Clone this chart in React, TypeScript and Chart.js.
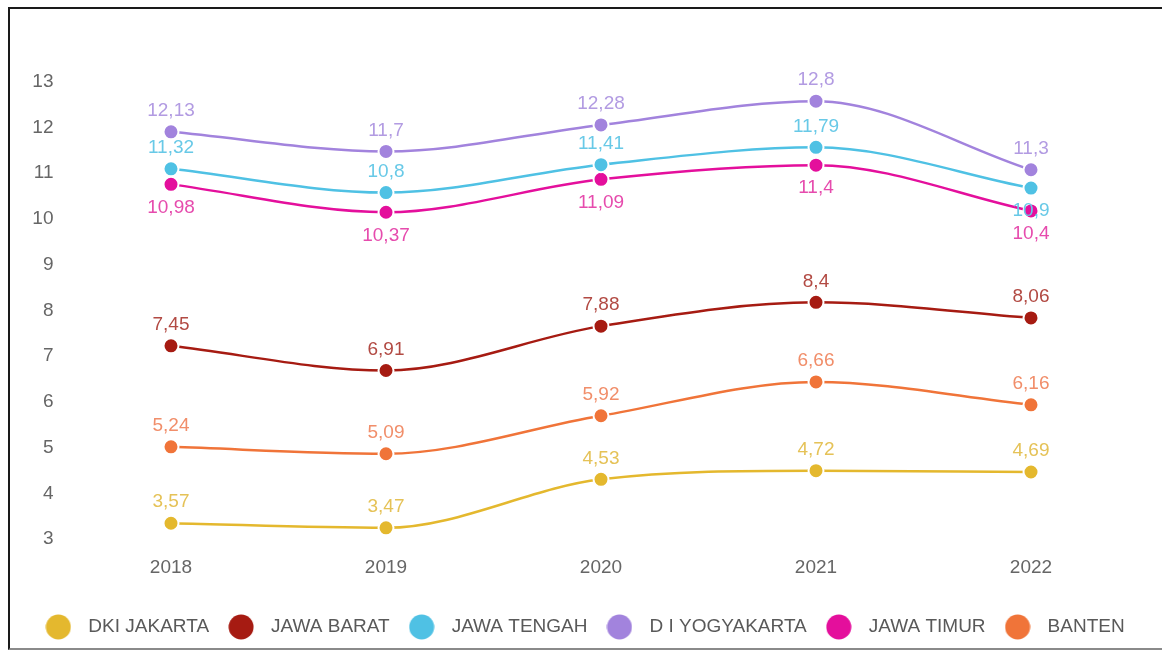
import React, { useEffect, useRef } from 'react';
import { Chart, registerables } from 'chart.js';

Chart.register(...registerables);

const years = ['2018', '2019', '2020', '2021', '2022'];
const dkiJakarta = [3.57, 3.47, 4.53, 4.72, 4.69];
const jawaBarat = [7.45, 6.91, 7.88, 8.4, 8.06];
const jawaTengah = [11.32, 10.8, 11.41, 11.79, 10.9];
const diYogyakarta = [12.13, 11.7, 12.28, 12.8, 11.3];
const jawaTimur = [10.98, 10.37, 11.09, 11.4, 10.4];
const banten = [5.24, 5.09, 5.92, 6.66, 6.16];
const yTicks = [3, 4, 5, 6, 7, 8, 9, 10, 11, 12, 13];

const seriesNames = ['DKI JAKARTA', 'JAWA BARAT', 'JAWA TENGAH', 'D I YOGYAKARTA', 'JAWA TIMUR', 'BANTEN'];
const seriesValues = [dkiJakarta, jawaBarat, jawaTengah, diYogyakarta, jawaTimur, banten];

const seriesStyles = [
  { color: '#E4B82E', labelColor: '#E5C257', side: ['a', 'a', 'a', 'a', 'a'] },
  { color: '#A61B12', labelColor: '#B24A43', side: ['a', 'a', 'a', 'a', 'a'] },
  { color: '#4FC1E4', labelColor: '#68C9E7', side: ['a', 'a', 'a', 'a', 'b'] },
  { color: '#A283DD', labelColor: '#B29BE2', side: ['a', 'a', 'a', 'a', 'a'] },
  { color: '#E40F9C', labelColor: '#E64BAD', side: ['b', 'b', 'b', 'b', 'b'] },
  { color: '#F07439', labelColor: '#F18E6A', side: ['a', 'a', 'a', 'a', 'a'] },
];

const FONT = "'Liberation Sans', Arial, sans-serif";

const valueLabels = {
  id: 'valueLabels',
  afterDatasetsDraw(chart: any) {
    const ctx = chart.ctx;
    ctx.save();
    ctx.font = `19px ${FONT}`;
    ctx.textAlign = 'center';
    ctx.textBaseline = 'middle';
    chart.data.datasets.forEach((ds: any, i: number) => {
      const meta = chart.getDatasetMeta(i);
      const st = seriesStyles[i];
      meta.data.forEach((pt: any, j: number) => {
        const v = ds.data[j];
        const below = st.side[j] === 'b';
        ctx.fillStyle = st.labelColor;
        ctx.fillText(String(v).replace('.', ','), pt.x, pt.y + (below ? 23 : -21));
      });
    });
    ctx.restore();
  },
};

function makeDot(color: string) {
  const c = document.createElement('canvas');
  c.width = 26;
  c.height = 26;
  const g = c.getContext('2d')!;
  g.fillStyle = color;
  g.beginPath();
  g.arc(13, 13, 12.5, 0, Math.PI * 2);
  g.fill();
  return c;
}

export default function App() {
  const ref = useRef<HTMLCanvasElement>(null);

  useEffect(() => {
    if (!ref.current) return;
    Chart.defaults.font.family = FONT;
    const dots = seriesStyles.map((s) => makeDot(s.color));
    const chart = new Chart(ref.current, {
      type: 'line',
      data: {
        labels: years,
        datasets: seriesNames.map((name, i) => ({
          label: name,
          data: seriesValues[i],
          borderColor: seriesStyles[i].color,
          backgroundColor: seriesStyles[i].color,
          pointBackgroundColor: seriesStyles[i].color,
          pointBorderColor: '#ffffff',
          pointBorderWidth: 2,
          pointRadius: 7.5,
          borderWidth: 2.5,
          cubicInterpolationMode: 'monotone' as const,
          tension: 0.4,
          fill: false,
        })),
      },
      options: {
        responsive: false,
        animation: false,
        events: [],
        layout: { padding: { top: 92, left: 24, right: 23.5, bottom: 4.5 } },
        scales: {
          x: {
            offset: true,
            grid: { display: false, drawTicks: false },
            border: { display: false },
            ticks: { color: '#666666', font: { size: 19 }, padding: 7 },
            afterFit: (scale: any) => {
              scale.height = 56.7;
            },
          },
          y: {
            min: 3,
            max: 13,
            grid: { display: false, drawTicks: false },
            border: { display: false },
            afterBuildTicks: (scale: any) => {
              scale.ticks = yTicks.map((v) => ({ value: v }));
            },
            ticks: { color: '#666666', font: { size: 19 }, padding: 10, labelOffset: -10.3 },
            afterFit: (scale: any) => {
              scale.width = 39.5;
            },
          },
        },
        plugins: {
          tooltip: { enabled: false },
          legend: {
            position: 'bottom',
            labels: {
              usePointStyle: true,
              pointStyleWidth: 41,
              padding: 11.5,
              color: '#595959',
              font: { size: 19 },
              generateLabels: (ch: any) => {
                const items = Chart.defaults.plugins.legend.labels.generateLabels(ch);
                items.forEach((it: any, i: number) => {
                  it.pointStyle = dots[i];
                });
                return items;
              },
            },
          },
        },
      },
      plugins: [valueLabels],
    } as any);
    return () => chart.destroy();
  }, []);

  return (
    <div style={{ position: 'fixed', left: 0, top: 0, width: 1162, height: 651, background: '#fff', overflow: 'hidden' }}>
      <canvas ref={ref} width={1162} height={651} style={{ position: 'absolute', left: 0, top: 0 }} />
      <div
        style={{
          position: 'absolute',
          left: 7.5,
          top: 6.5,
          width: 1170,
          height: 639.5,
          borderLeft: '2.5px solid #1a1a1a',
          borderTop: '2.5px solid #1a1a1a',
          borderBottom: '2px solid #8a8a8a',
          pointerEvents: 'none',
        }}
      />
    </div>
  );
}
